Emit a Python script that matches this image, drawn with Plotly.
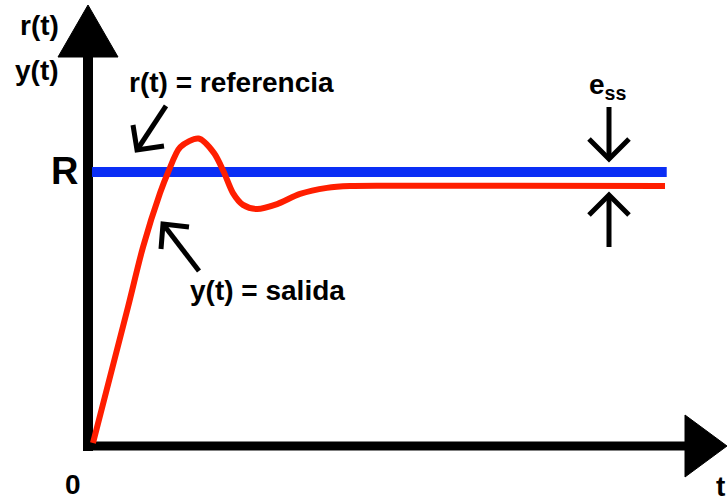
import plotly.graph_objects as go

# ---- data (t in arbitrary time units, response normalised so R = 1) ----
t_ref = [0.07, 10.10]
r_ref = [1.0, 1.0]

t_out = [0.087, 0.698, 0.96, 1.257, 1.40, 1.61, 1.93, 2.20, 2.37, 2.53, 2.705,
         2.95, 3.30, 3.70, 4.17, 4.57, 5.45, 10.07]
y_out = [0.011, 0.507, 0.726, 0.923, 1.0, 1.091, 1.122, 1.069, 1.0, 0.923, 0.88,
         0.865, 0.883, 0.920, 0.942, 0.949, 0.950, 0.949]

# ---- pixel helpers for decorations (origin at axes corner) ----
OX, OY, SX, SY = 88.0, 446.0, 57.3, 274.0
W, H = 727, 498


def dx(px):
    return (px - OX) / SX


def dy(py):
    return (OY - py) / SY


def path(pts, close=False):
    s = "M " + " L ".join(f"{dx(x):.4f},{dy(y):.4f}" for x, y in pts)
    return s + (" Z" if close else "")


fig = go.Figure()
fig.add_trace(go.Scatter(x=t_ref, y=r_ref, mode="lines",
                         line=dict(color="#0a2ef5", width=10), hoverinfo="skip"))
fig.add_trace(go.Scatter(x=t_out, y=y_out, mode="lines",
                         line=dict(color="#ff1e00", width=6, shape="spline", smoothing=0.8),
                         hoverinfo="skip"))

shapes = []
# axes
shapes.append(dict(type="line", x0=dx(88), y0=dy(451), x1=dx(88), y1=dy(55),
                   line=dict(color="black", width=10), layer="below"))
shapes.append(dict(type="line", x0=dx(83), y0=dy(446), x1=dx(690), y1=dy(446),
                   line=dict(color="black", width=9), layer="below"))
shapes.append(dict(type="path", path=path([(58, 57), (88, 5), (118, 57)], True),
                   fillcolor="black", line=dict(color="black", width=1)))
shapes.append(dict(type="path", path=path([(685, 415), (727, 446), (685, 477)], True),
                   fillcolor="black", line=dict(color="black", width=1)))
# e_ss arrows
arrow_line = dict(color="black", width=5)
shapes.append(dict(type="path", path=path([(609, 107), (609, 159)]), line=arrow_line))
shapes.append(dict(type="path", path=path([(589, 139), (609, 159), (629, 139)]), line=arrow_line))
shapes.append(dict(type="path", path=path([(609, 247), (609, 195)]), line=arrow_line))
shapes.append(dict(type="path", path=path([(589, 215), (609, 195), (629, 215)]), line=arrow_line))
# label arrows
shapes.append(dict(type="path", path=path([(166, 106), (137, 150)]), line=arrow_line))
shapes.append(dict(type="path", path=path([(133, 125), (137, 150), (164, 146)]), line=arrow_line))
shapes.append(dict(type="path", path=path([(199, 271), (163, 224)]), line=arrow_line))
shapes.append(dict(type="path", path=path([(161, 249), (163, 224), (189, 227)]), line=arrow_line))

FONT = "Liberation Sans"


def label(text, x, y, size=28):
    return dict(text=f"<b>{text}</b>", x=dx(x), y=dy(y), showarrow=False,
                xanchor="center", yanchor="middle",
                font=dict(family=FONT, size=size, color="black"))


annotations = [
    label("r(t)", 39, 25),
    label("y(t)", 37, 70),
    label("R", 64, 171, 38),
    label("0", 73, 484),
    label("t", 720, 486),
    label("r(t) = referencia", 231, 82),
    label("y(t) = salida", 267, 290),
    label("e<sub>ss</sub>", 607, 86),
]

fig.update_layout(
    width=W, height=H, margin=dict(l=0, r=0, t=0, b=0),
    paper_bgcolor="white", plot_bgcolor="white", showlegend=False,
    xaxis=dict(range=[dx(0), dx(W)], visible=False, fixedrange=True),
    yaxis=dict(range=[dy(H), dy(0)], visible=False, fixedrange=True),
    shapes=shapes, annotations=annotations,
)
fig.write_html("out.html", config={"displayModeBar": False},
               post_script="document.body.style.margin='0';document.body.style.overflow='hidden';")
